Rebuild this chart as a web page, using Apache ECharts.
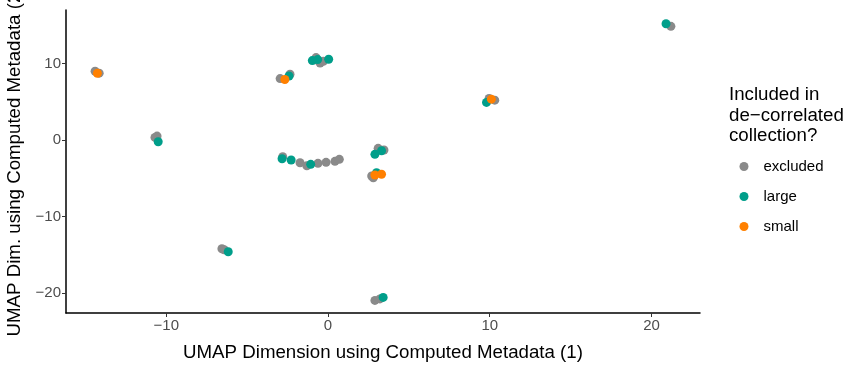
<!DOCTYPE html>
<html>
<head>
<meta charset="utf-8">
<script src="https://cdn.jsdelivr.net/npm/echarts@6/dist/echarts.min.js"></script>
<style>
html, body { margin: 0; padding: 0; background: #fff; }
#main { width: 864px; height: 370px; }
</style>
</head>
<body>
<div id="main"></div>
<script>
// UMAP coordinates, [dim1, dim2]
var excluded = [
	[-14.4, 9.0], [-14.15, 8.75],
	[-10.57, 0.52], [-10.7, 0.35],
	[-6.56, -14.21], [-6.42, -14.34],
	[-2.96, 8.04], [-2.35, 8.6],
	[-0.74, 10.78], [-0.49, 10.08], [-0.29, 10.3], [-0.8, 10.5],
	[-2.8, -2.18], [-1.73, -2.96], [-1.31, -3.35], [-0.62, -3.04], [-0.12, -2.91], [0.43, -2.78], [0.70, -2.52],
	[3.1, -1.08], [3.46, -1.30],
	[2.70, -4.69], [2.8, -4.92],
	[2.9, -20.95], [3.21, -20.76],
	[10.31, 5.22], [9.96, 5.44],
	[21.2, 14.86]
];
var large = [
	[-10.5, -0.22],
	[-6.17, -14.6],
	[-2.41, 8.38],
	[-0.97, 10.39], [-0.64, 10.52], [0.04, 10.56],
	[-2.84, -2.44], [-2.28, -2.61], [-1.07, -3.17],
	[2.9, -1.86], [3.31, -1.40],
	[3.0, -4.26],
	[3.41, -20.56],
	[9.8, 4.92],
	[20.9, 15.2]
];
var small = [
	[-14.26, 8.74],
	[-2.67, 7.91],
	[2.9, -4.56], [3.31, -4.47],
	[10.1, 5.35]
];
var xTicks = [-10, 0, 10, 20];
var yTicks = [-20, -10, 0, 10];

var myChart = echarts.init(document.getElementById('main'));
var font = 'Liberation Sans, Arial, sans-serif';
function minus(v) {
	return String(v).replace('-', '\u2212');
}
option = {
	animation: false,
	backgroundColor: '#fff',
	grid: {
		left: 66,
		right: 164,
		top: 10,
		bottom: 57,
		containLabel: false,
		outerBoundsMode: 'none'
	},
	xAxis: {
		type: 'value',
		min: -16.2,
		max: 23,
		name: 'UMAP Dimension using Computed Metadata (1)',
		nameLocation: 'middle',
		nameGap: 30,
		nameTextStyle: { fontFamily: font, fontSize: 18.7, color: '#000' },
		axisLine: { onZero: false, lineStyle: { color: '#000', width: 1.5 } },
		axisTick: { show: true, length: 4, lineStyle: { color: '#333' }, customValues: xTicks },
		axisLabel: { fontFamily: font, fontSize: 15, color: '#4d4d4d', margin: 5, customValues: xTicks, formatter: minus },
		splitLine: { show: false }
	},
	yAxis: {
		type: 'value',
		min: -22.6,
		max: 17,
		name: 'UMAP Dim. using Computed Metadata (2)',
		nameLocation: 'middle',
		nameGap: 40,
		nameTextStyle: { fontFamily: font, fontSize: 18.7, color: '#000' },
		axisLine: { onZero: false, lineStyle: { color: '#000', width: 1.5 } },
		axisTick: { show: true, length: 4, lineStyle: { color: '#333' }, customValues: yTicks },
		axisLabel: { fontFamily: font, fontSize: 15, color: '#4d4d4d', margin: 5, customValues: yTicks, formatter: minus },
		splitLine: { show: false }
	},
	legend: {
		orient: 'vertical',
		left: 734.5,
		top: 154,
		itemGap: 15,
		itemWidth: 9,
		itemHeight: 9,
		icon: 'circle',
		textStyle: { fontFamily: font, fontSize: 15, color: '#000', padding: [0, 0, 0, 10] },
		data: ['excluded', 'large', 'small']
	},
	graphic: {
		type: 'text',
		left: 729,
		top: 85,
		style: {
			text: 'Included in\nde\u2212correlated\ncollection?',
			font: '18.7px Liberation Sans, Arial, sans-serif',
			lineHeight: 20.5,
			fill: '#000'
		}
	},
	series: [{
		name: 'excluded',
		type: 'scatter',
		symbolSize: 9,
		data: excluded,
		itemStyle: { color: '#8a8a8a', opacity: 1 }
	}, {
		name: 'large',
		type: 'scatter',
		symbolSize: 9,
		data: large,
		itemStyle: { color: '#009e8a', opacity: 1 }
	}, {
		name: 'small',
		type: 'scatter',
		symbolSize: 9,
		data: small,
		itemStyle: { color: '#ff8000', opacity: 1 }
	}]
};
myChart.setOption(option);
</script>
</body>
</html>
